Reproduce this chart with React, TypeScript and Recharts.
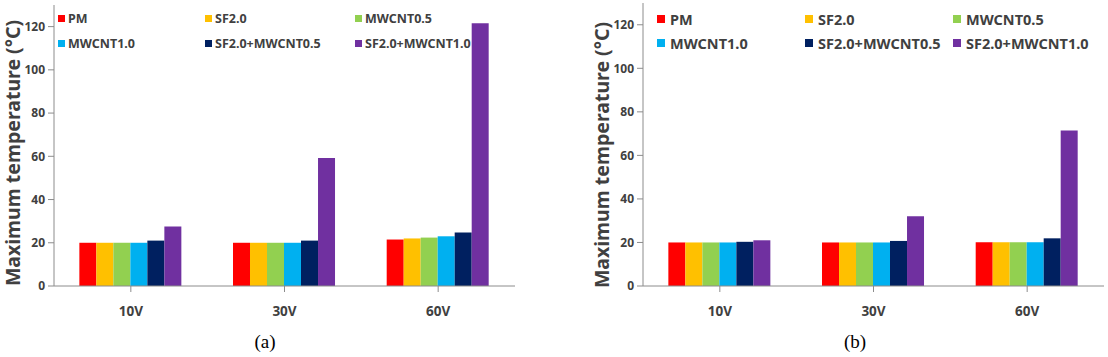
import { BarChart, Bar, XAxis, YAxis, Legend } from 'recharts'

const categories = ['10V', '30V', '60V']
const seriesNames = ['PM', 'SF2.0', 'MWCNT0.5', 'MWCNT1.0', 'SF2.0+MWCNT0.5', 'SF2.0+MWCNT1.0']
const seriesColors = ['#ff0000', '#ffc000', '#92d050', '#00b0f0', '#002060', '#7030a0']
const yTicks = [0, 20, 40, 60, 80, 100, 120]

// panel (a)
const pmA = [20, 20, 21.5]
const sfA = [20, 20, 22]
const cnt05A = [20, 20, 22.4]
const cnt10A = [20, 20, 23]
const sfCnt05A = [21, 21, 24.7]
const sfCnt10A = [27.5, 59.2, 121.5]

// panel (b)
const pmB = [20, 20, 20.1]
const sfB = [20, 20, 20.1]
const cnt05B = [20, 20, 20.1]
const cnt10B = [20, 20, 20.1]
const sfCnt05B = [20.3, 20.7, 21.9]
const sfCnt10B = [21, 32, 71.4]

const AXIS = '#8c8c8c'
const TEXT = '#404040'
const SANS = '"Noto Sans", "DejaVu Sans", sans-serif'

function buildRows(series: number[][]) {
  return categories.map((name, i) => {
    const row: Record<string, string | number> = { name }
    series.forEach((vals, s) => {
      row['s' + s] = vals[i]
    })
    return row
  })
}

interface LegendCfg {
  left: number
  top: number
  rowH: number
  cols: string
  font: number
  square: number
  gap: number
}

interface PanelProps {
  left: number
  width: number
  yAxisWidth: number
  marginTop: number
  marginRight: number
  series: number[][]
  legend: LegendCfg
  yLabelX: number
  yLabelY: number
}

function Panel({ left, width, yAxisWidth, marginTop, marginRight, series, legend, yLabelX, yLabelY }: PanelProps) {
  const data = buildRows(series)

  const renderLegend = () => (
    <div
      style={{
        display: 'grid',
        gridTemplateColumns: legend.cols,
        fontFamily: SANS,
        fontWeight: 700,
        fontSize: legend.font,
        color: TEXT,
      }}
    >
      {seriesNames.map((n, i) => (
        <div key={n} style={{ display: 'flex', alignItems: 'center', height: legend.rowH, whiteSpace: 'nowrap' }}>
          <span
            style={{
              display: 'inline-block',
              width: legend.square,
              height: legend.square,
              background: seriesColors[i],
              marginRight: legend.gap,
            }}
          />
          {n}
        </div>
      ))}
    </div>
  )

  return (
    <div style={{ position: 'absolute', left, top: 0 }}>
      <BarChart
        width={width}
        height={330}
        data={data}
        margin={{ top: marginTop, right: marginRight, bottom: 14, left: 0 }}
        barCategoryGap="16.5%"
        barGap={0}
      >
        <XAxis
          dataKey="name"
          height={30}
          tickSize={6}
          tickMargin={14}
          axisLine={{ stroke: AXIS }}
          tickLine={{ stroke: AXIS }}
          tick={{ fontSize: 13.5, fontWeight: 700, fill: TEXT, fontFamily: SANS }}
        />
        <XAxis xAxisId="top" orientation="top" dataKey="name" height={0} tick={false} tickLine={false} axisLine={{ stroke: AXIS }} />
        <YAxis
          width={yAxisWidth}
          domain={[0, 130]}
          ticks={yTicks}
          tickSize={6}
          tickMargin={3}
          axisLine={{ stroke: AXIS }}
          tickLine={{ stroke: AXIS }}
          tick={{ fontSize: 12, fontWeight: 700, fill: TEXT, fontFamily: SANS }}
          label={() => (
            <text
              x={yLabelX}
              y={yLabelY}
              transform={`rotate(-90, ${yLabelX}, ${yLabelY})`}
              textAnchor="middle"
              dominantBaseline="central"
              fontFamily={SANS}
              fontWeight={700}
              fontSize={19.5}
              fill={TEXT}
            >
              Maximum temperature (°C)
            </text>
          )}
        />
        <YAxis yAxisId="right" orientation="right" width={0} domain={[0, 130]} tick={false} tickLine={false} axisLine={{ stroke: AXIS }} />
        <Legend
          layout="vertical"
          align="center"
          verticalAlign="middle"
          content={renderLegend}
          wrapperStyle={{ left: legend.left, top: legend.top, width: width - legend.left - 10 }}
        />
        {seriesNames.map((n, i) => (
          <Bar key={n} dataKey={'s' + i} name={n} fill={seriesColors[i]} isAnimationActive={false} />
        ))}
      </BarChart>
    </div>
  )
}

const captionStyle = {
  position: 'absolute' as const,
  top: 331,
  width: 40,
  textAlign: 'center' as const,
  fontFamily: '"Liberation Serif", "Times New Roman", serif',
  fontSize: 19,
  lineHeight: '22px',
  color: '#000',
}

export default function App() {
  return (
    <div style={{ position: 'absolute', left: 0, top: 0, width: 1108, height: 357, background: '#fff' }}>
      <Panel
        left={0}
        width={520}
        yAxisWidth={54}
        marginTop={5}
        marginRight={5}
        series={[pmA, sfA, cnt05A, cnt10A, sfCnt05A, sfCnt10A]}
        legend={{ left: 58, top: 6, rowH: 25, cols: '147px 150px auto', font: 12.5, square: 7, gap: 3 }}
        yLabelX={12}
        yLabelY={153}
      />
      <Panel
        left={585}
        width={523}
        yAxisWidth={58}
        marginTop={3}
        marginRight={4}
        series={[pmB, sfB, cnt05B, cnt10B, sfCnt05B, sfCnt10B]}
        legend={{ left: 72, top: 7, rowH: 24, cols: '148px 148px auto', font: 14.5, square: 8, gap: 5 }}
        yLabelX={16}
        yLabelY={155}
      />
      <div style={{ ...captionStyle, left: 245 }}>(a)</div>
      <div style={{ ...captionStyle, left: 835 }}>(b)</div>
    </div>
  )
}
